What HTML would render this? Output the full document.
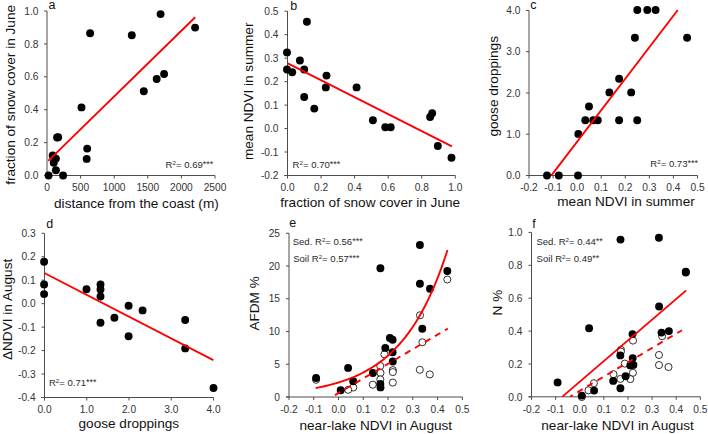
<!DOCTYPE html>
<html><head><meta charset="utf-8"><style>
html,body{margin:0;padding:0;background:#fff;}
svg{display:block;font-family:"Liberation Sans", sans-serif;}
</style></head><body>
<svg width="708" height="434" viewBox="0 0 708 434" font-family='"Liberation Sans", sans-serif'>
<rect width="708" height="434" fill="#fff"/>
<line x1="47" y1="11" x2="47" y2="175.5" stroke="#4d4d4d" stroke-width="1" />
<line x1="44" y1="175.5" x2="215" y2="175.5" stroke="#4d4d4d" stroke-width="1" />
<line x1="44" y1="175.5" x2="47" y2="175.5" stroke="#4d4d4d" stroke-width="1" />
<text x="38.5" y="179.1" font-size="10.2" text-anchor="end" fill="#333" >0.0</text>
<line x1="44" y1="142.6" x2="47" y2="142.6" stroke="#4d4d4d" stroke-width="1" />
<text x="38.5" y="146.2" font-size="10.2" text-anchor="end" fill="#333" >0.2</text>
<line x1="44" y1="109.7" x2="47" y2="109.7" stroke="#4d4d4d" stroke-width="1" />
<text x="38.5" y="113.3" font-size="10.2" text-anchor="end" fill="#333" >0.4</text>
<line x1="44" y1="76.8" x2="47" y2="76.8" stroke="#4d4d4d" stroke-width="1" />
<text x="38.5" y="80.4" font-size="10.2" text-anchor="end" fill="#333" >0.6</text>
<line x1="44" y1="43.9" x2="47" y2="43.9" stroke="#4d4d4d" stroke-width="1" />
<text x="38.5" y="47.5" font-size="10.2" text-anchor="end" fill="#333" >0.8</text>
<line x1="44" y1="11" x2="47" y2="11" stroke="#4d4d4d" stroke-width="1" />
<text x="38.5" y="14.6" font-size="10.2" text-anchor="end" fill="#333" >1.0</text>
<line x1="47" y1="175.5" x2="47" y2="178.5" stroke="#4d4d4d" stroke-width="1" />
<text x="47" y="191.2" font-size="10.2" text-anchor="middle" fill="#333" >0</text>
<line x1="80.6" y1="175.5" x2="80.6" y2="178.5" stroke="#4d4d4d" stroke-width="1" />
<text x="80.6" y="191.2" font-size="10.2" text-anchor="middle" fill="#333" >500</text>
<line x1="114.2" y1="175.5" x2="114.2" y2="178.5" stroke="#4d4d4d" stroke-width="1" />
<text x="114.2" y="191.2" font-size="10.2" text-anchor="middle" fill="#333" >1000</text>
<line x1="147.8" y1="175.5" x2="147.8" y2="178.5" stroke="#4d4d4d" stroke-width="1" />
<text x="147.8" y="191.2" font-size="10.2" text-anchor="middle" fill="#333" >1500</text>
<line x1="181.4" y1="175.5" x2="181.4" y2="178.5" stroke="#4d4d4d" stroke-width="1" />
<text x="181.4" y="191.2" font-size="10.2" text-anchor="middle" fill="#333" >2000</text>
<line x1="215" y1="175.5" x2="215" y2="178.5" stroke="#4d4d4d" stroke-width="1" />
<text x="215" y="191.2" font-size="10.2" text-anchor="middle" fill="#333" >2500</text>
<line x1="287.5" y1="11.2" x2="287.5" y2="175.5" stroke="#4d4d4d" stroke-width="1" />
<line x1="284.3" y1="175.5" x2="455.3" y2="175.5" stroke="#4d4d4d" stroke-width="1" />
<line x1="284.5" y1="175.5" x2="287.5" y2="175.5" stroke="#4d4d4d" stroke-width="1" />
<text x="278.5" y="179.1" font-size="10.2" text-anchor="end" fill="#333" >-0.2</text>
<line x1="284.5" y1="152.03" x2="287.5" y2="152.03" stroke="#4d4d4d" stroke-width="1" />
<text x="278.5" y="155.63" font-size="10.2" text-anchor="end" fill="#333" >-0.1</text>
<line x1="284.5" y1="128.56" x2="287.5" y2="128.56" stroke="#4d4d4d" stroke-width="1" />
<text x="278.5" y="132.16" font-size="10.2" text-anchor="end" fill="#333" >0.0</text>
<line x1="284.5" y1="105.09" x2="287.5" y2="105.09" stroke="#4d4d4d" stroke-width="1" />
<text x="278.5" y="108.69" font-size="10.2" text-anchor="end" fill="#333" >0.1</text>
<line x1="284.5" y1="81.61" x2="287.5" y2="81.61" stroke="#4d4d4d" stroke-width="1" />
<text x="278.5" y="85.21" font-size="10.2" text-anchor="end" fill="#333" >0.2</text>
<line x1="284.5" y1="58.14" x2="287.5" y2="58.14" stroke="#4d4d4d" stroke-width="1" />
<text x="278.5" y="61.74" font-size="10.2" text-anchor="end" fill="#333" >0.3</text>
<line x1="284.5" y1="34.67" x2="287.5" y2="34.67" stroke="#4d4d4d" stroke-width="1" />
<text x="278.5" y="38.27" font-size="10.2" text-anchor="end" fill="#333" >0.4</text>
<line x1="284.5" y1="11.2" x2="287.5" y2="11.2" stroke="#4d4d4d" stroke-width="1" />
<text x="278.5" y="14.8" font-size="10.2" text-anchor="end" fill="#333" >0.5</text>
<line x1="287.5" y1="175.5" x2="287.5" y2="178.5" stroke="#4d4d4d" stroke-width="1" />
<text x="287.5" y="191.2" font-size="10.2" text-anchor="middle" fill="#333" >0.0</text>
<line x1="321.06" y1="175.5" x2="321.06" y2="178.5" stroke="#4d4d4d" stroke-width="1" />
<text x="321.06" y="191.2" font-size="10.2" text-anchor="middle" fill="#333" >0.2</text>
<line x1="354.62" y1="175.5" x2="354.62" y2="178.5" stroke="#4d4d4d" stroke-width="1" />
<text x="354.62" y="191.2" font-size="10.2" text-anchor="middle" fill="#333" >0.4</text>
<line x1="388.18" y1="175.5" x2="388.18" y2="178.5" stroke="#4d4d4d" stroke-width="1" />
<text x="388.18" y="191.2" font-size="10.2" text-anchor="middle" fill="#333" >0.6</text>
<line x1="421.74" y1="175.5" x2="421.74" y2="178.5" stroke="#4d4d4d" stroke-width="1" />
<text x="421.74" y="191.2" font-size="10.2" text-anchor="middle" fill="#333" >0.8</text>
<line x1="455.3" y1="175.5" x2="455.3" y2="178.5" stroke="#4d4d4d" stroke-width="1" />
<text x="455.3" y="191.2" font-size="10.2" text-anchor="middle" fill="#333" >1.0</text>
<line x1="529" y1="10.5" x2="529" y2="175.5" stroke="#4d4d4d" stroke-width="1" />
<line x1="526" y1="175.5" x2="697.5" y2="175.5" stroke="#4d4d4d" stroke-width="1" />
<line x1="526" y1="175.5" x2="529" y2="175.5" stroke="#4d4d4d" stroke-width="1" />
<text x="520.5" y="179.1" font-size="10.2" text-anchor="end" fill="#333" >0.0</text>
<line x1="526" y1="134.23" x2="529" y2="134.23" stroke="#4d4d4d" stroke-width="1" />
<text x="520.5" y="137.83" font-size="10.2" text-anchor="end" fill="#333" >1.0</text>
<line x1="526" y1="92.96" x2="529" y2="92.96" stroke="#4d4d4d" stroke-width="1" />
<text x="520.5" y="96.56" font-size="10.2" text-anchor="end" fill="#333" >2.0</text>
<line x1="526" y1="51.69" x2="529" y2="51.69" stroke="#4d4d4d" stroke-width="1" />
<text x="520.5" y="55.29" font-size="10.2" text-anchor="end" fill="#333" >3.0</text>
<line x1="526" y1="10.42" x2="529" y2="10.42" stroke="#4d4d4d" stroke-width="1" />
<text x="520.5" y="14.02" font-size="10.2" text-anchor="end" fill="#333" >4.0</text>
<line x1="529" y1="175.5" x2="529" y2="178.5" stroke="#4d4d4d" stroke-width="1" />
<text x="529" y="191.2" font-size="10.2" text-anchor="middle" fill="#333" >-0.2</text>
<line x1="553.07" y1="175.5" x2="553.07" y2="178.5" stroke="#4d4d4d" stroke-width="1" />
<text x="553.07" y="191.2" font-size="10.2" text-anchor="middle" fill="#333" >-0.1</text>
<line x1="577.14" y1="175.5" x2="577.14" y2="178.5" stroke="#4d4d4d" stroke-width="1" />
<text x="577.14" y="191.2" font-size="10.2" text-anchor="middle" fill="#333" >0.0</text>
<line x1="601.21" y1="175.5" x2="601.21" y2="178.5" stroke="#4d4d4d" stroke-width="1" />
<text x="601.21" y="191.2" font-size="10.2" text-anchor="middle" fill="#333" >0.1</text>
<line x1="625.28" y1="175.5" x2="625.28" y2="178.5" stroke="#4d4d4d" stroke-width="1" />
<text x="625.28" y="191.2" font-size="10.2" text-anchor="middle" fill="#333" >0.2</text>
<line x1="649.35" y1="175.5" x2="649.35" y2="178.5" stroke="#4d4d4d" stroke-width="1" />
<text x="649.35" y="191.2" font-size="10.2" text-anchor="middle" fill="#333" >0.3</text>
<line x1="673.42" y1="175.5" x2="673.42" y2="178.5" stroke="#4d4d4d" stroke-width="1" />
<text x="673.42" y="191.2" font-size="10.2" text-anchor="middle" fill="#333" >0.4</text>
<line x1="697.49" y1="175.5" x2="697.49" y2="178.5" stroke="#4d4d4d" stroke-width="1" />
<text x="697.49" y="191.2" font-size="10.2" text-anchor="middle" fill="#333" >0.5</text>
<line x1="44.5" y1="233.3" x2="44.5" y2="397.5" stroke="#4d4d4d" stroke-width="1" />
<line x1="41.3" y1="397.5" x2="213.5" y2="397.5" stroke="#4d4d4d" stroke-width="1" />
<line x1="41.5" y1="397.5" x2="44.5" y2="397.5" stroke="#4d4d4d" stroke-width="1" />
<text x="35.6" y="401.1" font-size="10.2" text-anchor="end" fill="#333" >-0.4</text>
<line x1="41.5" y1="374.04" x2="44.5" y2="374.04" stroke="#4d4d4d" stroke-width="1" />
<text x="35.6" y="377.64" font-size="10.2" text-anchor="end" fill="#333" >-0.3</text>
<line x1="41.5" y1="350.58" x2="44.5" y2="350.58" stroke="#4d4d4d" stroke-width="1" />
<text x="35.6" y="354.18" font-size="10.2" text-anchor="end" fill="#333" >-0.2</text>
<line x1="41.5" y1="327.12" x2="44.5" y2="327.12" stroke="#4d4d4d" stroke-width="1" />
<text x="35.6" y="330.72" font-size="10.2" text-anchor="end" fill="#333" >-0.1</text>
<line x1="41.5" y1="303.66" x2="44.5" y2="303.66" stroke="#4d4d4d" stroke-width="1" />
<text x="35.6" y="307.26" font-size="10.2" text-anchor="end" fill="#333" >0.0</text>
<line x1="41.5" y1="280.2" x2="44.5" y2="280.2" stroke="#4d4d4d" stroke-width="1" />
<text x="35.6" y="283.8" font-size="10.2" text-anchor="end" fill="#333" >0.1</text>
<line x1="41.5" y1="256.74" x2="44.5" y2="256.74" stroke="#4d4d4d" stroke-width="1" />
<text x="35.6" y="260.34" font-size="10.2" text-anchor="end" fill="#333" >0.2</text>
<line x1="41.5" y1="233.28" x2="44.5" y2="233.28" stroke="#4d4d4d" stroke-width="1" />
<text x="35.6" y="236.88" font-size="10.2" text-anchor="end" fill="#333" >0.3</text>
<line x1="44.5" y1="397.5" x2="44.5" y2="400.5" stroke="#4d4d4d" stroke-width="1" />
<text x="44.5" y="413" font-size="10.2" text-anchor="middle" fill="#333" >0.0</text>
<line x1="86.75" y1="397.5" x2="86.75" y2="400.5" stroke="#4d4d4d" stroke-width="1" />
<text x="86.75" y="413" font-size="10.2" text-anchor="middle" fill="#333" >1.0</text>
<line x1="129" y1="397.5" x2="129" y2="400.5" stroke="#4d4d4d" stroke-width="1" />
<text x="129" y="413" font-size="10.2" text-anchor="middle" fill="#333" >2.0</text>
<line x1="171.25" y1="397.5" x2="171.25" y2="400.5" stroke="#4d4d4d" stroke-width="1" />
<text x="171.25" y="413" font-size="10.2" text-anchor="middle" fill="#333" >3.0</text>
<line x1="213.5" y1="397.5" x2="213.5" y2="400.5" stroke="#4d4d4d" stroke-width="1" />
<text x="213.5" y="413" font-size="10.2" text-anchor="middle" fill="#333" >4.0</text>
<line x1="289" y1="233.2" x2="289" y2="397" stroke="#4d4d4d" stroke-width="1" />
<line x1="286" y1="397" x2="462.6" y2="397" stroke="#4d4d4d" stroke-width="1" />
<line x1="286" y1="397" x2="289" y2="397" stroke="#4d4d4d" stroke-width="1" />
<text x="280" y="400.6" font-size="10.2" text-anchor="end" fill="#333" >0</text>
<line x1="286" y1="364.25" x2="289" y2="364.25" stroke="#4d4d4d" stroke-width="1" />
<text x="280" y="367.85" font-size="10.2" text-anchor="end" fill="#333" >5</text>
<line x1="286" y1="331.5" x2="289" y2="331.5" stroke="#4d4d4d" stroke-width="1" />
<text x="280" y="335.1" font-size="10.2" text-anchor="end" fill="#333" >10</text>
<line x1="286" y1="298.75" x2="289" y2="298.75" stroke="#4d4d4d" stroke-width="1" />
<text x="280" y="302.35" font-size="10.2" text-anchor="end" fill="#333" >15</text>
<line x1="286" y1="266" x2="289" y2="266" stroke="#4d4d4d" stroke-width="1" />
<text x="280" y="269.6" font-size="10.2" text-anchor="end" fill="#333" >20</text>
<line x1="286" y1="233.25" x2="289" y2="233.25" stroke="#4d4d4d" stroke-width="1" />
<text x="280" y="236.85" font-size="10.2" text-anchor="end" fill="#333" >25</text>
<line x1="289" y1="397" x2="289" y2="400" stroke="#4d4d4d" stroke-width="1" />
<text x="289" y="413" font-size="10.2" text-anchor="middle" fill="#333" >-0.2</text>
<line x1="313.76" y1="397" x2="313.76" y2="400" stroke="#4d4d4d" stroke-width="1" />
<text x="313.76" y="413" font-size="10.2" text-anchor="middle" fill="#333" >-0.1</text>
<line x1="338.52" y1="397" x2="338.52" y2="400" stroke="#4d4d4d" stroke-width="1" />
<text x="338.52" y="413" font-size="10.2" text-anchor="middle" fill="#333" >0.0</text>
<line x1="363.28" y1="397" x2="363.28" y2="400" stroke="#4d4d4d" stroke-width="1" />
<text x="363.28" y="413" font-size="10.2" text-anchor="middle" fill="#333" >0.1</text>
<line x1="388.04" y1="397" x2="388.04" y2="400" stroke="#4d4d4d" stroke-width="1" />
<text x="388.04" y="413" font-size="10.2" text-anchor="middle" fill="#333" >0.2</text>
<line x1="412.8" y1="397" x2="412.8" y2="400" stroke="#4d4d4d" stroke-width="1" />
<text x="412.8" y="413" font-size="10.2" text-anchor="middle" fill="#333" >0.3</text>
<line x1="437.56" y1="397" x2="437.56" y2="400" stroke="#4d4d4d" stroke-width="1" />
<text x="437.56" y="413" font-size="10.2" text-anchor="middle" fill="#333" >0.4</text>
<line x1="462.32" y1="397" x2="462.32" y2="400" stroke="#4d4d4d" stroke-width="1" />
<text x="462.32" y="413" font-size="10.2" text-anchor="middle" fill="#333" >0.5</text>
<line x1="531.5" y1="232.4" x2="531.5" y2="396.8" stroke="#4d4d4d" stroke-width="1" />
<line x1="528.5" y1="396.8" x2="700.4" y2="396.8" stroke="#4d4d4d" stroke-width="1" />
<line x1="528.5" y1="396.9" x2="531.5" y2="396.9" stroke="#4d4d4d" stroke-width="1" />
<text x="522.5" y="400.5" font-size="10.2" text-anchor="end" fill="#333" >0.0</text>
<line x1="528.5" y1="364" x2="531.5" y2="364" stroke="#4d4d4d" stroke-width="1" />
<text x="522.5" y="367.6" font-size="10.2" text-anchor="end" fill="#333" >0.2</text>
<line x1="528.5" y1="331.1" x2="531.5" y2="331.1" stroke="#4d4d4d" stroke-width="1" />
<text x="522.5" y="334.7" font-size="10.2" text-anchor="end" fill="#333" >0.4</text>
<line x1="528.5" y1="298.2" x2="531.5" y2="298.2" stroke="#4d4d4d" stroke-width="1" />
<text x="522.5" y="301.8" font-size="10.2" text-anchor="end" fill="#333" >0.6</text>
<line x1="528.5" y1="265.3" x2="531.5" y2="265.3" stroke="#4d4d4d" stroke-width="1" />
<text x="522.5" y="268.9" font-size="10.2" text-anchor="end" fill="#333" >0.8</text>
<line x1="528.5" y1="232.4" x2="531.5" y2="232.4" stroke="#4d4d4d" stroke-width="1" />
<text x="522.5" y="236" font-size="10.2" text-anchor="end" fill="#333" >1.0</text>
<line x1="531.5" y1="396.8" x2="531.5" y2="399.8" stroke="#4d4d4d" stroke-width="1" />
<text x="531.5" y="413" font-size="10.2" text-anchor="middle" fill="#333" >-0.2</text>
<line x1="555.62" y1="396.8" x2="555.62" y2="399.8" stroke="#4d4d4d" stroke-width="1" />
<text x="555.62" y="413" font-size="10.2" text-anchor="middle" fill="#333" >-0.1</text>
<line x1="579.74" y1="396.8" x2="579.74" y2="399.8" stroke="#4d4d4d" stroke-width="1" />
<text x="579.74" y="413" font-size="10.2" text-anchor="middle" fill="#333" >0.0</text>
<line x1="603.86" y1="396.8" x2="603.86" y2="399.8" stroke="#4d4d4d" stroke-width="1" />
<text x="603.86" y="413" font-size="10.2" text-anchor="middle" fill="#333" >0.1</text>
<line x1="627.98" y1="396.8" x2="627.98" y2="399.8" stroke="#4d4d4d" stroke-width="1" />
<text x="627.98" y="413" font-size="10.2" text-anchor="middle" fill="#333" >0.2</text>
<line x1="652.1" y1="396.8" x2="652.1" y2="399.8" stroke="#4d4d4d" stroke-width="1" />
<text x="652.1" y="413" font-size="10.2" text-anchor="middle" fill="#333" >0.3</text>
<line x1="676.22" y1="396.8" x2="676.22" y2="399.8" stroke="#4d4d4d" stroke-width="1" />
<text x="676.22" y="413" font-size="10.2" text-anchor="middle" fill="#333" >0.4</text>
<line x1="700.34" y1="396.8" x2="700.34" y2="399.8" stroke="#4d4d4d" stroke-width="1" />
<text x="700.34" y="413" font-size="10.2" text-anchor="middle" fill="#333" >0.5</text>
<text x="48.5" y="9.3" font-size="12.5" text-anchor="start" fill="#111" >a</text>
<text x="290.3" y="9.8" font-size="12.5" text-anchor="start" fill="#111" >b</text>
<text x="530.3" y="8.9" font-size="12.5" text-anchor="start" fill="#111" >c</text>
<text x="46.3" y="228.4" font-size="12.5" text-anchor="start" fill="#111" >d</text>
<text x="289.3" y="226.8" font-size="12.5" text-anchor="start" fill="#111" >e</text>
<text x="532.3" y="227.6" font-size="12.5" text-anchor="start" fill="#111" >f</text>
<text x="136.4" y="207.5" font-size="13.6" text-anchor="middle" fill="#111" >distance from the coast (m)</text>
<text x="370.2" y="206.6" font-size="13.6" text-anchor="middle" fill="#111" >fraction of snow cover in June</text>
<text x="626" y="206.4" font-size="13.6" text-anchor="middle" fill="#111" >mean NDVI in summer</text>
<text x="128.8" y="427.6" font-size="13.6" text-anchor="middle" fill="#111" >goose droppings</text>
<text x="375.8" y="429.7" font-size="13.6" text-anchor="middle" fill="#111" >near-lake NDVI in August</text>
<text x="617.6" y="429.7" font-size="13.6" text-anchor="middle" fill="#111" >near-lake NDVI in August</text>
<text x="0" y="0" font-size="13.6" text-anchor="middle" fill="#111" transform="translate(14.6,94.9) rotate(-90)">fraction of snow cover in June</text>
<text x="0" y="0" font-size="13.6" text-anchor="middle" fill="#111" transform="translate(252.7,91.3) rotate(-90)">mean NDVI in summer</text>
<text x="0" y="0" font-size="13.6" text-anchor="middle" fill="#111" transform="translate(498.2,86.3) rotate(-90)">goose droppings</text>
<text x="0" y="0" font-size="13.6" text-anchor="middle" fill="#111" transform="translate(12.0,309.4) rotate(-90)">ΔNDVI in August</text>
<text x="0" y="0" font-size="13.6" text-anchor="middle" fill="#111" transform="translate(259,303.4) rotate(-90)">AFDM %</text>
<text x="0" y="0" font-size="13.6" text-anchor="middle" fill="#111" transform="translate(502,302.6) rotate(-90)">N %</text>
<text x="165.6" y="167.8" font-size="9.55" fill="#2a2a2a" text-anchor="start">R<tspan font-size="6.2" dy="-3.0">2</tspan><tspan dy="3.0">= 0.69</tspan><tspan font-size="9" dy="-0.9">***</tspan></text>
<text x="292.6" y="168" font-size="9.55" fill="#2a2a2a" text-anchor="start">R<tspan font-size="6.2" dy="-3.0">2</tspan><tspan dy="3.0">= 0.70</tspan><tspan font-size="9" dy="-0.9">***</tspan></text>
<text x="650.3" y="166.9" font-size="9.55" fill="#2a2a2a" text-anchor="start">R<tspan font-size="6.2" dy="-3.0">2</tspan><tspan dy="3.0">= 0.73</tspan><tspan font-size="9" dy="-0.9">***</tspan></text>
<text x="48.9" y="386.3" font-size="9.55" fill="#2a2a2a" text-anchor="start">R<tspan font-size="6.2" dy="-3.0">2</tspan><tspan dy="3.0">= 0.71</tspan><tspan font-size="9" dy="-0.9">***</tspan></text>
<text x="292.7" y="244.5" font-size="9.55" fill="#2a2a2a" text-anchor="start">Sed. R<tspan font-size="6.2" dy="-3.0">2</tspan><tspan dy="3.0">= 0.56</tspan><tspan font-size="9" dy="-0.9">***</tspan></text>
<text x="293.2" y="261.5" font-size="9.55" fill="#2a2a2a" text-anchor="start">Soil R<tspan font-size="6.2" dy="-3.0">2</tspan><tspan dy="3.0">= 0.57</tspan><tspan font-size="9" dy="-0.9">***</tspan></text>
<text x="536.4" y="244.5" font-size="9.55" fill="#2a2a2a" text-anchor="start">Sed. R<tspan font-size="6.2" dy="-3.0">2</tspan><tspan dy="3.0">= 0.44</tspan><tspan font-size="9" dy="-0.9">**</tspan></text>
<text x="536.6" y="261.5" font-size="9.55" fill="#2a2a2a" text-anchor="start">Soil R<tspan font-size="6.2" dy="-3.0">2</tspan><tspan dy="3.0">= 0.49</tspan><tspan font-size="9" dy="-0.9">**</tspan></text>
<circle cx="90.1" cy="33.3" r="3.95" fill="#000"/>
<circle cx="131.8" cy="35.2" r="3.95" fill="#000"/>
<circle cx="160.6" cy="14.1" r="3.95" fill="#000"/>
<circle cx="195.1" cy="27.6" r="3.95" fill="#000"/>
<circle cx="164.1" cy="74" r="3.95" fill="#000"/>
<circle cx="156.7" cy="79" r="3.95" fill="#000"/>
<circle cx="143.8" cy="91.2" r="3.95" fill="#000"/>
<circle cx="81.5" cy="107.4" r="3.95" fill="#000"/>
<circle cx="57.1" cy="137.5" r="3.95" fill="#000"/>
<circle cx="58.2" cy="137.2" r="3.95" fill="#000"/>
<circle cx="87.2" cy="148.6" r="3.95" fill="#000"/>
<circle cx="86.7" cy="158.9" r="3.95" fill="#000"/>
<circle cx="52.7" cy="155.5" r="3.95" fill="#000"/>
<circle cx="55.9" cy="158.6" r="3.95" fill="#000"/>
<circle cx="53.7" cy="162.8" r="3.95" fill="#000"/>
<circle cx="55.9" cy="170.3" r="3.95" fill="#000"/>
<circle cx="48.6" cy="175.5" r="3.95" fill="#000"/>
<circle cx="63.1" cy="175.5" r="3.95" fill="#000"/>
<circle cx="306.9" cy="21.8" r="3.95" fill="#000"/>
<circle cx="287" cy="52.4" r="3.95" fill="#000"/>
<circle cx="299.9" cy="60.5" r="3.95" fill="#000"/>
<circle cx="287" cy="69.5" r="3.95" fill="#000"/>
<circle cx="292.2" cy="72.3" r="3.95" fill="#000"/>
<circle cx="304.2" cy="69.5" r="3.95" fill="#000"/>
<circle cx="326.5" cy="75.6" r="3.95" fill="#000"/>
<circle cx="325.8" cy="87.4" r="3.95" fill="#000"/>
<circle cx="356.6" cy="87.4" r="3.95" fill="#000"/>
<circle cx="304.2" cy="97" r="3.95" fill="#000"/>
<circle cx="314.3" cy="108.6" r="3.95" fill="#000"/>
<circle cx="372.9" cy="120.3" r="3.95" fill="#000"/>
<circle cx="385.3" cy="127.3" r="3.95" fill="#000"/>
<circle cx="390.7" cy="127.3" r="3.95" fill="#000"/>
<circle cx="432.2" cy="113.2" r="3.95" fill="#000"/>
<circle cx="430.1" cy="117" r="3.95" fill="#000"/>
<circle cx="437.8" cy="146" r="3.95" fill="#000"/>
<circle cx="451.5" cy="157.8" r="3.95" fill="#000"/>
<circle cx="637.3" cy="10" r="3.95" fill="#000"/>
<circle cx="647.3" cy="10" r="3.95" fill="#000"/>
<circle cx="655.6" cy="10" r="3.95" fill="#000"/>
<circle cx="634.9" cy="37.8" r="3.95" fill="#000"/>
<circle cx="687.1" cy="37.8" r="3.95" fill="#000"/>
<circle cx="619.1" cy="78.8" r="3.95" fill="#000"/>
<circle cx="609.4" cy="92.4" r="3.95" fill="#000"/>
<circle cx="631.2" cy="92.4" r="3.95" fill="#000"/>
<circle cx="589" cy="106.5" r="3.95" fill="#000"/>
<circle cx="585.3" cy="120.2" r="3.95" fill="#000"/>
<circle cx="593.2" cy="120.2" r="3.95" fill="#000"/>
<circle cx="597.8" cy="120.2" r="3.95" fill="#000"/>
<circle cx="619.1" cy="120.2" r="3.95" fill="#000"/>
<circle cx="637.2" cy="120.2" r="3.95" fill="#000"/>
<circle cx="578.3" cy="133.9" r="3.95" fill="#000"/>
<circle cx="547" cy="175.5" r="3.95" fill="#000"/>
<circle cx="558.8" cy="175.5" r="3.95" fill="#000"/>
<circle cx="578" cy="175.5" r="3.95" fill="#000"/>
<circle cx="44.1" cy="261.8" r="3.95" fill="#000"/>
<circle cx="44.1" cy="284.5" r="3.95" fill="#000"/>
<circle cx="44.1" cy="294.1" r="3.95" fill="#000"/>
<circle cx="86.5" cy="289.2" r="3.95" fill="#000"/>
<circle cx="100.5" cy="284.4" r="3.95" fill="#000"/>
<circle cx="100.5" cy="289.5" r="3.95" fill="#000"/>
<circle cx="100.5" cy="296.5" r="3.95" fill="#000"/>
<circle cx="100.5" cy="322.7" r="3.95" fill="#000"/>
<circle cx="114.4" cy="317.7" r="3.95" fill="#000"/>
<circle cx="128.6" cy="305.8" r="3.95" fill="#000"/>
<circle cx="128.6" cy="336.2" r="3.95" fill="#000"/>
<circle cx="142.6" cy="310.4" r="3.95" fill="#000"/>
<circle cx="185.2" cy="320" r="3.95" fill="#000"/>
<circle cx="185.2" cy="348.4" r="3.95" fill="#000"/>
<circle cx="213.5" cy="388" r="3.95" fill="#000"/>
<circle cx="316.1" cy="379.8" r="3.55" fill="#fff" stroke="#000" stroke-width="0.8"/>
<circle cx="353.3" cy="387.5" r="3.55" fill="#fff" stroke="#000" stroke-width="0.8"/>
<circle cx="348.2" cy="389.8" r="3.55" fill="#fff" stroke="#000" stroke-width="0.8"/>
<circle cx="372.8" cy="384.7" r="3.55" fill="#fff" stroke="#000" stroke-width="0.8"/>
<circle cx="380.3" cy="366" r="3.55" fill="#fff" stroke="#000" stroke-width="0.8"/>
<circle cx="380.5" cy="372.9" r="3.55" fill="#fff" stroke="#000" stroke-width="0.8"/>
<circle cx="380.3" cy="379.4" r="3.55" fill="#fff" stroke="#000" stroke-width="0.8"/>
<circle cx="392.8" cy="370.1" r="3.55" fill="#fff" stroke="#000" stroke-width="0.8"/>
<circle cx="392.8" cy="372.1" r="3.55" fill="#fff" stroke="#000" stroke-width="0.8"/>
<circle cx="392.8" cy="382.6" r="3.55" fill="#fff" stroke="#000" stroke-width="0.8"/>
<circle cx="384.4" cy="354.3" r="3.55" fill="#fff" stroke="#000" stroke-width="0.8"/>
<circle cx="420" cy="315.3" r="3.55" fill="#fff" stroke="#000" stroke-width="0.8"/>
<circle cx="422.4" cy="342.3" r="3.55" fill="#fff" stroke="#000" stroke-width="0.8"/>
<circle cx="419.8" cy="369.8" r="3.55" fill="#fff" stroke="#000" stroke-width="0.8"/>
<circle cx="429.8" cy="374.4" r="3.55" fill="#fff" stroke="#000" stroke-width="0.8"/>
<circle cx="447.3" cy="279.5" r="3.55" fill="#fff" stroke="#000" stroke-width="0.8"/>
<circle cx="316.1" cy="378" r="3.95" fill="#000"/>
<circle cx="348.1" cy="367.9" r="3.95" fill="#000"/>
<circle cx="353.2" cy="381.2" r="3.95" fill="#000"/>
<circle cx="340.7" cy="390.2" r="3.95" fill="#000"/>
<circle cx="372.9" cy="373" r="3.95" fill="#000"/>
<circle cx="380.3" cy="384" r="3.95" fill="#000"/>
<circle cx="380.5" cy="387.4" r="3.95" fill="#000"/>
<circle cx="392.8" cy="361.5" r="3.95" fill="#000"/>
<circle cx="389.9" cy="337.9" r="3.95" fill="#000"/>
<circle cx="392.6" cy="339.7" r="3.95" fill="#000"/>
<circle cx="385.3" cy="347.9" r="3.95" fill="#000"/>
<circle cx="392.6" cy="352.2" r="3.95" fill="#000"/>
<circle cx="380.4" cy="268.2" r="3.95" fill="#000"/>
<circle cx="419.9" cy="245" r="3.95" fill="#000"/>
<circle cx="419.9" cy="283.7" r="3.95" fill="#000"/>
<circle cx="430" cy="288.8" r="3.95" fill="#000"/>
<circle cx="447.3" cy="271" r="3.95" fill="#000"/>
<circle cx="422.3" cy="328.8" r="3.95" fill="#000"/>
<path d="M315.61,388.06 L317.81,387.64 L320.00,387.19 L322.20,386.73 L324.40,386.24 L326.60,385.73 L328.80,385.19 L330.99,384.63 L333.19,384.04 L335.39,383.43 L337.59,382.78 L339.79,382.11 L341.99,381.40 L344.18,380.65 L346.38,379.87 L348.58,379.06 L350.78,378.20 L352.98,377.30 L355.18,376.37 L357.37,375.38 L359.57,374.35 L361.77,373.27 L363.97,372.13 L366.17,370.95 L368.37,369.70 L370.56,368.40 L372.76,367.03 L374.96,365.60 L377.16,364.10 L379.36,362.52 L381.56,360.88 L383.75,359.15 L385.95,357.34 L388.15,355.44 L390.35,353.45 L392.55,351.37 L394.75,349.19 L396.94,346.90 L399.14,344.50 L401.34,341.99 L403.54,339.35 L405.74,336.59 L407.94,333.70 L410.13,330.67 L412.33,327.50 L414.53,324.17 L416.73,320.68 L418.93,317.03 L421.13,313.20 L423.32,309.18 L425.52,304.98 L427.72,300.57 L429.92,295.95 L432.12,291.11 L434.32,286.03 L436.51,280.72 L438.71,275.15 L440.91,269.31 L443.11,263.19 L445.31,256.78 L447.50,250.06" fill="none" stroke="#ff0000" stroke-width="1.9"/>
<line x1="335" y1="395.1" x2="447.8" y2="328.6" stroke="#ff0000" stroke-width="1.9" stroke-dasharray="6.3 5.3"/>
<circle cx="581.8" cy="397" r="3.55" fill="#fff" stroke="#000" stroke-width="0.8"/>
<circle cx="588.5" cy="390.3" r="3.55" fill="#fff" stroke="#000" stroke-width="0.8"/>
<circle cx="593.9" cy="383.2" r="3.55" fill="#fff" stroke="#000" stroke-width="0.8"/>
<circle cx="633" cy="340.6" r="3.55" fill="#fff" stroke="#000" stroke-width="0.8"/>
<circle cx="620.9" cy="349.8" r="3.55" fill="#fff" stroke="#000" stroke-width="0.8"/>
<circle cx="620.9" cy="351.6" r="3.55" fill="#fff" stroke="#000" stroke-width="0.8"/>
<circle cx="624.8" cy="363.6" r="3.55" fill="#fff" stroke="#000" stroke-width="0.8"/>
<circle cx="632.9" cy="372.8" r="3.55" fill="#fff" stroke="#000" stroke-width="0.8"/>
<circle cx="613.5" cy="374.2" r="3.55" fill="#fff" stroke="#000" stroke-width="0.8"/>
<circle cx="620.4" cy="378.9" r="3.55" fill="#fff" stroke="#000" stroke-width="0.8"/>
<circle cx="630.3" cy="379.1" r="3.55" fill="#fff" stroke="#000" stroke-width="0.8"/>
<circle cx="662.1" cy="336.2" r="3.55" fill="#fff" stroke="#000" stroke-width="0.8"/>
<circle cx="659" cy="355" r="3.55" fill="#fff" stroke="#000" stroke-width="0.8"/>
<circle cx="659" cy="365.1" r="3.55" fill="#fff" stroke="#000" stroke-width="0.8"/>
<circle cx="668.5" cy="367" r="3.55" fill="#fff" stroke="#000" stroke-width="0.8"/>
<circle cx="557.6" cy="382.4" r="3.95" fill="#000"/>
<circle cx="581.8" cy="395.6" r="3.95" fill="#000"/>
<circle cx="594.1" cy="390.6" r="3.95" fill="#000"/>
<circle cx="620.5" cy="239.6" r="3.95" fill="#000"/>
<circle cx="658.9" cy="237.7" r="3.95" fill="#000"/>
<circle cx="685.8" cy="271.8" r="3.95" fill="#000"/>
<circle cx="685.8" cy="272.5" r="3.95" fill="#000"/>
<circle cx="659.1" cy="306.5" r="3.95" fill="#000"/>
<circle cx="589.1" cy="328.3" r="3.95" fill="#000"/>
<circle cx="632.5" cy="334.1" r="3.95" fill="#000"/>
<circle cx="661.5" cy="332.6" r="3.95" fill="#000"/>
<circle cx="668.9" cy="331.1" r="3.95" fill="#000"/>
<circle cx="620.3" cy="355.4" r="3.95" fill="#000"/>
<circle cx="632.7" cy="358.1" r="3.95" fill="#000"/>
<circle cx="630.3" cy="365.4" r="3.95" fill="#000"/>
<circle cx="633.4" cy="364.9" r="3.95" fill="#000"/>
<circle cx="625.6" cy="376.3" r="3.95" fill="#000"/>
<circle cx="613.2" cy="380.9" r="3.95" fill="#000"/>
<circle cx="620.4" cy="388.2" r="3.95" fill="#000"/>
<line x1="570.3" y1="396.5" x2="682" y2="330.2" stroke="#ff0000" stroke-width="1.9" stroke-dasharray="6.2 5.43" stroke-dashoffset="3.49"/>
<line x1="48.2" y1="160.9" x2="195.2" y2="17.3" stroke="#ff0000" stroke-width="1.9" />
<line x1="287.3" y1="63.1" x2="451.9" y2="146.4" stroke="#ff0000" stroke-width="1.9" />
<line x1="551.4" y1="175.3" x2="677.8" y2="10" stroke="#ff0000" stroke-width="1.9" />
<line x1="44.3" y1="273" x2="213.3" y2="360.2" stroke="#ff0000" stroke-width="1.9" />
<line x1="562.4" y1="396.6" x2="686.2" y2="290.4" stroke="#ff0000" stroke-width="1.9" />
</svg>
</body></html>
